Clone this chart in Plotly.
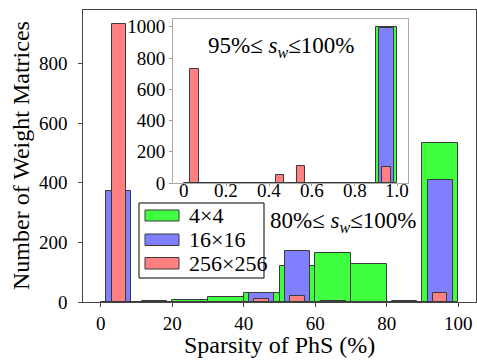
import plotly.graph_objects as go

# Histogram of PhS sparsity, bins of 10 %
bin_centers = [5, 15, 25, 35, 45, 55, 65, 75, 85, 95]
counts_4x4 = [0, 0, 6, 17, 29, 121, 164, 126, 0, 532]
counts_16x16 = [374, 2, 0, 0, 29, 170, 2, 0, 3, 411]
counts_256x256 = [933, 0, 0, 0, 10, 21, 0, 0, 0, 30]

# Inset: weight sparsity between 95 % and 100 %
inset_centers = [0.05, 0.15, 0.25, 0.35, 0.45, 0.55, 0.65, 0.75, 0.85, 0.95]
inset_4x4 = [0, 0, 0, 0, 0, 0, 0, 0, 0, 1000]
inset_16x16 = [0, 0, 0, 0, 0, 0, 0, 0, 0, 994]
inset_256x256 = [729, 0, 0, 0, 51, 111, 0, 0, 0, 100]

series_names = ["4×4", "16×16", "256×256"]
x_ticks = [0, 20, 40, 60, 80, 100]
y_ticks = [0, 200, 400, 600, 800]
inset_x_ticks = [0, 0.2, 0.4, 0.6, 0.8, 1.0]
inset_x_labels = ["0", "0.2", "0.4", "0.6", "0.8", "1.0"]
inset_y_ticks = [0, 200, 400, 600, 800, 1000]

colors = ["#40ff40", "#8080ff", "#ff8080"]
edge = "#3a3a3a"
FONT = "Liberation Serif"

W, H = 477, 360
ML, MR, MT, MB = 83, 1, 10, 58
PW, PH = W - ML - MR, H - MT - MB


def px_x(p):
    return (p - ML) / PW


def px_y(p):
    return (H - MB - p) / PH


fig = go.Figure()

main_widths = [10, 7, 4]
for name, vals, col, wd in zip(series_names, [counts_4x4, counts_16x16, counts_256x256], colors, main_widths):
    fig.add_trace(go.Bar(x=bin_centers, y=vals, width=wd, name=name,
                         marker=dict(color=col, line=dict(color=edge, width=1)),
                         xaxis="x", yaxis="y", showlegend=False))

inset_widths = [0.1, 0.07, 0.04]
for name, vals, col, wd in zip(series_names, [inset_4x4, inset_16x16, inset_256x256], colors, inset_widths):
    fig.add_trace(go.Bar(x=inset_centers, y=vals, width=wd, name=name,
                         marker=dict(color=col, line=dict(color=edge, width=1)),
                         xaxis="x2", yaxis="y2", showlegend=False))

tick_font = dict(family=FONT, size=19, color="black")

fig.update_layout(
    width=W, height=H,
    margin=dict(l=ML, r=MR, t=MT, b=MB),
    paper_bgcolor="white", plot_bgcolor="white",
    barmode="overlay", bargap=0,
    font=dict(family=FONT, color="black"),
    xaxis=dict(domain=[0, 1], range=[-5, 105], tickvals=x_ticks,
               ticks="outside", ticklen=4, tickcolor="#444",
               showline=True, linecolor="#444", linewidth=1, mirror=True,
               showgrid=False, zeroline=False, tickfont=tick_font),
    yaxis=dict(domain=[0, 1], range=[0, 980], tickvals=y_ticks, showticklabels=False,
               ticks="outside", ticklen=4, tickcolor="#444",
               showline=True, linecolor="#444", linewidth=1, mirror=True,
               showgrid=False, zeroline=False),
    xaxis2=dict(domain=[px_x(173), px_x(408)], range=[-0.05, 1.05], anchor="y2",
                tickvals=inset_x_ticks, showticklabels=False,
                ticks="outside", ticklen=2, tickcolor="#999",
                showline=True, linecolor="#aaa", linewidth=1, mirror=True,
                showgrid=False, zeroline=False),
    yaxis2=dict(domain=[px_y(183), px_y(19)], range=[0, 1050], anchor="x2",
                tickvals=inset_y_ticks,
                ticks="outside", ticklen=3, tickcolor="#999",
                showline=True, linecolor="#aaa", linewidth=1, mirror=True,
                showgrid=False, zeroline=False, tickfont=tick_font),
)

annotations = [
    dict(text="Sparsity of PhS (%)", xref="paper", yref="paper",
         x=0.5, y=px_y(345), xanchor="center", yanchor="middle",
         showarrow=False, font=dict(family=FONT, size=24)),
    dict(text="Number of Weight Matrices", xref="paper", yref="paper",
         x=px_x(21), y=0.5, xanchor="center", yanchor="middle", textangle=-90,
         showarrow=False, font=dict(family=FONT, size=24)),
    dict(text="80%≤ <i>s</i><sub><i>w</i></sub>≤100%", xref="paper", yref="paper",
         x=px_x(343), y=px_y(222), xanchor="center", yanchor="middle",
         showarrow=False, font=dict(family=FONT, size=23)),
    dict(text="95%≤ <i>s</i><sub><i>w</i></sub>≤100%", xref="paper", yref="paper",
         x=px_x(281), y=px_y(47), xanchor="center", yanchor="middle",
         showarrow=False, font=dict(family=FONT, size=23)),
]

# Main y tick labels, set a little further from the axis line
for tv in y_ticks:
    annotations.append(dict(text=str(tv), xref="paper", yref="y", x=px_x(70), y=tv,
                            xanchor="right", yanchor="middle", showarrow=False,
                            font=tick_font))

# Inset x tick labels sit over the main plot area, so they are placed on the x2 scale
for tv, tl in zip(inset_x_ticks, inset_x_labels):
    annotations.append(dict(text=tl, xref="x2", yref="paper", x=tv, y=px_y(191),
                            xanchor="center", yanchor="middle", showarrow=False,
                            font=tick_font))

# Legend drawn as a boxed key with wide colour patches
shapes = [dict(type="rect", xref="paper", yref="paper",
               x0=px_x(139), x1=px_x(264), y0=px_y(278), y1=px_y(203),
               fillcolor="white", line=dict(color="black", width=1), layer="above")]
patch_rows = [(210, 221), (234, 245.5), (257.5, 269)]
for (top, bot), col, name in zip(patch_rows, colors, series_names):
    shapes.append(dict(type="rect", xref="paper", yref="paper",
                       x0=px_x(145), x1=px_x(179), y0=px_y(bot), y1=px_y(top),
                       fillcolor=col, line=dict(color=edge, width=1), layer="above"))
    annotations.append(dict(text=name, xref="paper", yref="paper",
                            x=px_x(187), y=px_y((top + bot) / 2), xanchor="left", yanchor="middle",
                            showarrow=False, font=dict(family=FONT, size=22)))

fig.update_layout(annotations=annotations, shapes=shapes)

fig.write_html("out.html")
